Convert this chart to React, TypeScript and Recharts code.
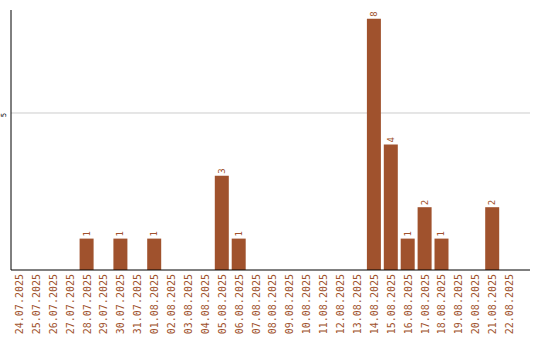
import React from 'react';
import { BarChart, Bar, XAxis, YAxis, CartesianGrid, LabelList } from 'recharts';

const dates = [
  '24.07.2025', '25.07.2025', '26.07.2025', '27.07.2025', '28.07.2025', '29.07.2025',
  '30.07.2025', '31.07.2025', '01.08.2025', '02.08.2025', '03.08.2025', '04.08.2025',
  '05.08.2025', '06.08.2025', '07.08.2025', '08.08.2025', '09.08.2025', '10.08.2025',
  '11.08.2025', '12.08.2025', '13.08.2025', '14.08.2025', '15.08.2025', '16.08.2025',
  '17.08.2025', '18.08.2025', '19.08.2025', '20.08.2025', '21.08.2025', '22.08.2025',
];
const counts = [0, 0, 0, 0, 1, 0, 1, 0, 1, 0, 0, 0, 3, 1, 0, 0, 0, 0, 0, 0, 0, 8, 4, 1, 2, 1, 0, 0, 2, 0];
const yTicks = [5];

const data = dates.map((d, i) => ({ date: d, count: counts[i] }));

const BROWN = '#a0522d';
const AXIS_Y = 270;

// date labels run upward, ending just under the axis line
const DateTick = ({ x, payload }: any) => (
  <text
    x={x}
    y={AXIS_Y + 4}
    transform={`rotate(-90, ${x}, ${AXIS_Y + 4})`}
    textAnchor="end"
    dominantBaseline="central"
    fill={BROWN}
    fontFamily="DejaVu Sans Mono"
    fontSize={10}
  >
    {payload.value}
  </text>
);

const ValueTick = ({ y, payload }: any) => (
  <text
    x={4}
    y={y + 2}
    transform={`rotate(-90, 4, ${y + 2})`}
    textAnchor="middle"
    dominantBaseline="central"
    fill="#000"
    fontFamily="DejaVu Sans"
    fontSize={7}
  >
    {payload.value}
  </text>
);

const BarValue = (props: any) => {
  const { x, y, width, value } = props;
  if (!value) return null;
  const cx = x + width / 2;
  const ty = y - 2;
  return (
    <text
      x={cx}
      y={ty}
      transform={`rotate(-90, ${cx}, ${ty})`}
      textAnchor="start"
      dominantBaseline="central"
      fill={BROWN}
      fontFamily="DejaVu Sans Mono"
      fontSize={9}
    >
      {value}
    </text>
  );
};

export default function App() {
  return (
    <div style={{ position: 'absolute', left: 0, top: 0 }}>
      <BarChart width={540} height={340} data={data} margin={{ top: 10, right: 10, left: 0, bottom: 0 }}>
        <CartesianGrid vertical={false} stroke="#cccccc" horizontalValues={yTicks} />
        <XAxis
          dataKey="date"
          interval={0}
          height={70}
          tick={<DateTick />}
          tickLine={false}
          axisLine={{ stroke: '#000' }}
          padding={{ left: 0, right: 12 }}
        />
        <YAxis
          width={11}
          domain={[0, 8.28]}
          ticks={yTicks}
          tick={<ValueTick />}
          tickLine={false}
          axisLine={{ stroke: '#000' }}
        />
        <Bar dataKey="count" fill={BROWN} barSize={14} isAnimationActive={false}>
          <LabelList dataKey="count" content={<BarValue />} />
        </Bar>
      </BarChart>
    </div>
  );
}
